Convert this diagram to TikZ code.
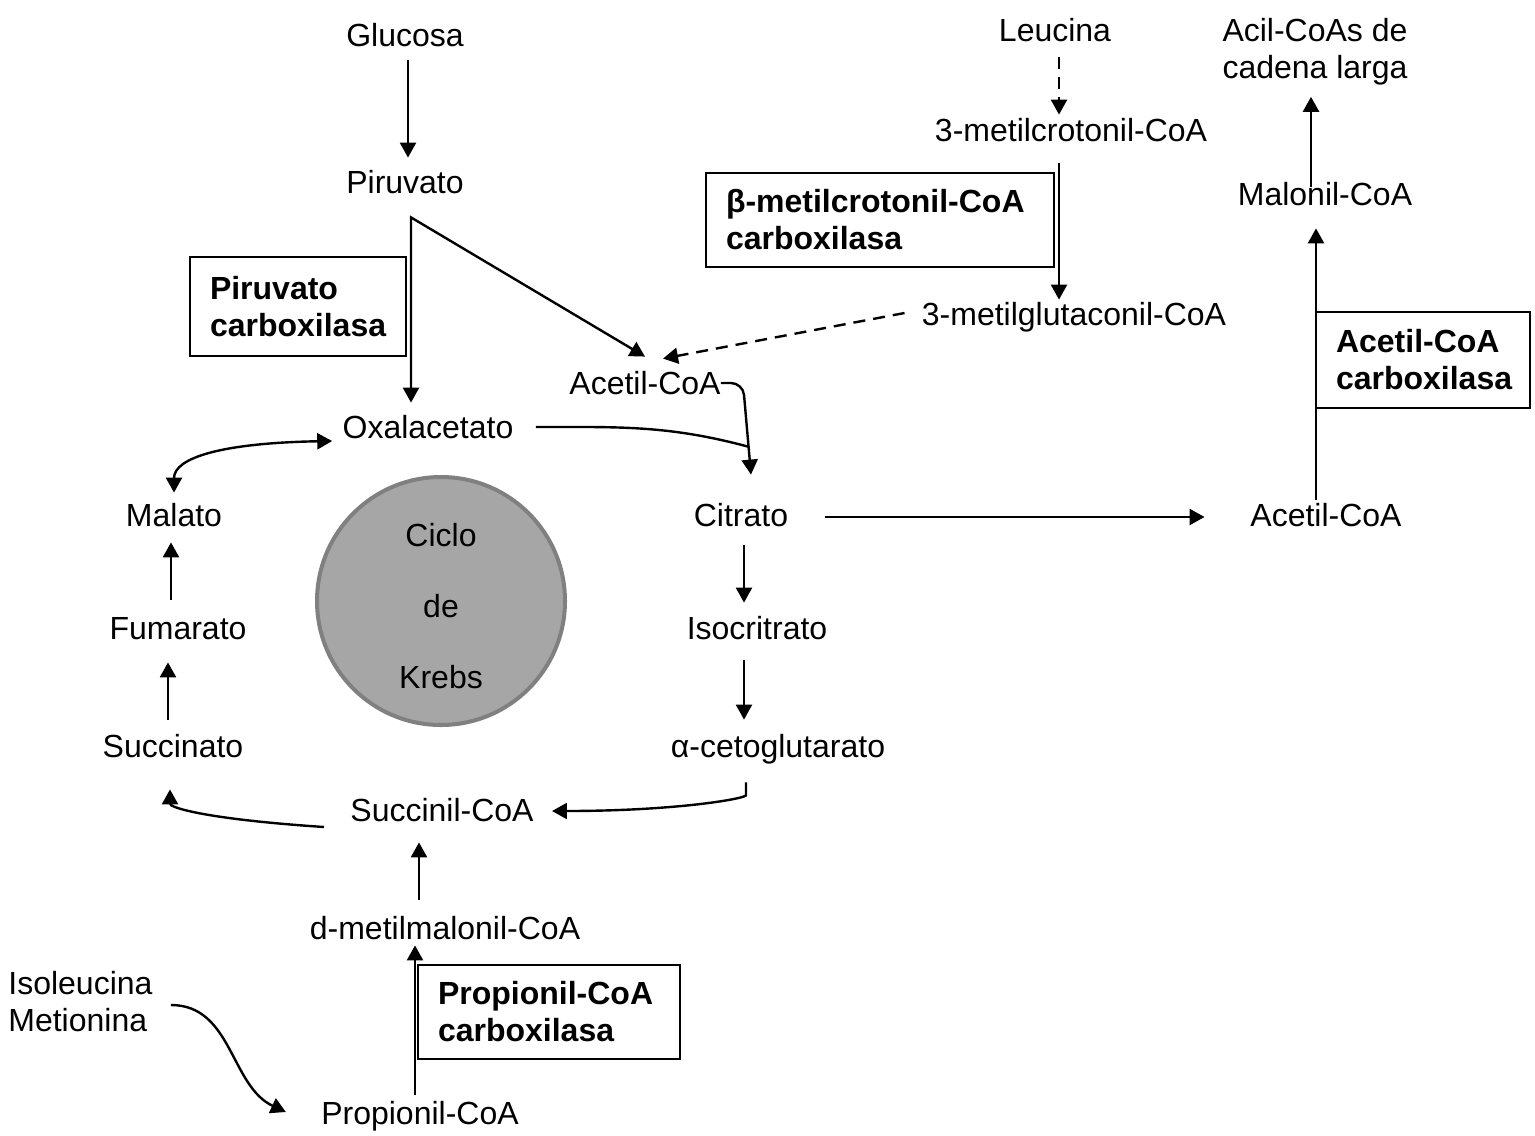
\documentclass[tikz,border=0pt]{standalone}
\usepackage{fontspec}
\setmainfont{Liberation Sans}
\usetikzlibrary{arrows.meta}
\tikzset{
met/.style={inner sep=0pt, font=\fontsize{16}{18.5}\selectfont, text height=11.5pt, text depth=0pt},
two/.style={inner sep=0pt, font=\fontsize{16}{18.5}\selectfont},
enz/.style={draw, line width=0.6pt, inner xsep=10pt, inner ysep=0pt, align=left,
  font=\fontsize{16}{18.5}\selectfont\bfseries, execute at begin node={\hyphenpenalty=10000\relax}},
krebs/.style={circle, draw=black!50, fill=black!35, line width=2pt, minimum size=124pt, inner sep=0pt},
arr/.style={line width=1.2pt, -{Triangle[length=7.5pt,width=8pt]}},
arr2/.style={line width=1.2pt, {Triangle[length=7.5pt,width=8pt]}-{Triangle[length=7.5pt,width=8pt]}},
dashline/.style={dash pattern=on 6pt off 4pt},
}

\begin{document}
\begin{tikzpicture}[x=0.5pt,y=0.5pt]
\useasboundingbox (0,0) rectangle (1535,-1135);
% the metabolites
\node[met] (glu) at (405,-35) {Glucosa};
\node[met] (piru) at (405,-182) {Piruvato};
\node[met] (oxa) at (428,-427) {Oxalacetato};
\node[met] (acoa) at (645,-383) {Acetil-CoA};
\node[met] (cit) at (741,-515) {Citrato};
\node[met] (iso) at (757,-628) {Isocritrato};
\node[met] (akg) at (778,-746) {α-cetoglutarato};
\node[met] (scoa) at (442,-810) {Succinil-CoA};
\node[met] (succ) at (173,-746) {Succinato};
\node[met] (fum) at (178,-628) {Fumarato};
\node[met] (mal) at (174,-515) {Malato};
\node[met] (dmm) at (445,-928) {d-metilmalonil-CoA};
\node[met] (pcoa) at (420,-1113) {Propionil-CoA};
\node[two, align=left, anchor=west] (ile) at (8,-1002) {Isoleucina\\Metionina};
\node[met] (leu) at (1055,-30) {Leucina};
\node[met] (mcc) at (1071,-130) {3-metilcrotonil-CoA};
\node[met] (mgc) at (1074,-314) {3-metilglutaconil-CoA};
\node[two, align=center] (acil) at (1315,-52) {Acil-CoAs de\\cadena larga};
\node[met] (malcoa) at (1325,-194) {Malonil-CoA};
\node[met] (acoa2) at (1326,-515) {Acetil-CoA};

% the cycle
\node[krebs] (ciclo) at (441,-601) {};
\node[two, align=center, font=\fontsize{16}{35.5}\selectfont] (ciclo-txt)
  at ([yshift=-2.5pt]ciclo.center) {Ciclo\\de\\Krebs};

% the enzymes
\node[enz, minimum width=108pt, minimum height=49.5pt, text width=88pt] (pc) at (298,-306.5) {Piruvato\\carboxilasa};
\node[enz, minimum width=174pt, minimum height=47pt, text width=154pt] (mccc) at (880,-220) {β-metilcrotonil-CoA\\carboxilasa};
\node[enz, minimum width=107pt, minimum height=48pt, text width=87pt] (acc) at (1423,-360) {Acetil-CoA\\carboxilasa};
\node[enz, minimum width=131pt, minimum height=47pt, text width=111pt] (pcc) at (549,-1012) {Propionil-CoA\\carboxilasa};

% the arrows
\draw[arr] ([xshift=1.5pt,yshift=-6.75pt]glu.south) -- ([xshift=1.5pt,yshift=6.25pt]piru.north);
\coordinate (split) at ([xshift=3pt,yshift=-11.75pt]piru.south);
\draw[arr2] ([xshift=-8.5pt,yshift=6.25pt]oxa.north) -- (split) -- ([yshift=7.25pt]acoa.north);
\draw[arr,dashline] ([xshift=-8.5pt,yshift=0.5pt]mgc.west) -- ([xshift=9pt,yshift=6.25pt]acoa.north);
\draw[arr,rounded corners=6pt] (acoa.east) -- ++(22,0) -- ([xshift=5pt,yshift=14.25pt]cit.north);
\draw[line width=1.2pt] ([xshift=11pt]oxa.east) to[out=0,in=165] ([xshift=3.5pt,yshift=28.25pt]cit.north);
\draw[arr] ([xshift=18pt,yshift=-1pt]cit.east) -- ([xshift=-22.75pt,yshift=-1pt]acoa2.west);
\draw[arr] ([xshift=1.5pt,yshift=-9.25pt]cit.south) -- ([xshift=-6.5pt,yshift=6.75pt]iso.north);
\draw[arr] ([xshift=-6.5pt,yshift=-10.25pt]iso.south) -- ([xshift=-17pt,yshift=7.25pt]akg.north);
\draw[arr] ([xshift=-16pt,yshift=-12.25pt]akg.south) -- ++(0,-13)
  .. controls +(-4,-4) and +(120,0) .. ([xshift=9pt,yshift=-0.5pt]scoa.east);
\draw[arr] ([xshift=-13pt,yshift=-8.5pt]scoa.west)
  .. controls +(-120,8) and +(0,-18) .. ([xshift=-1.5pt,yshift=-15.75pt]succ.south);
\draw[arr] ([xshift=-2.5pt,yshift=7.25pt]succ.north) -- ([xshift=-5pt,yshift=-11.25pt]fum.south);
\draw[arr] ([xshift=-3.5pt,yshift=8.25pt]fum.north) -- ([xshift=-1.5pt,yshift=-7.75pt]mal.south);
\draw[arr2] ([yshift=5.25pt]mal.north)
  .. controls +(0,35) and +(-110,-2) .. ([xshift=-5pt,yshift=-7pt]oxa.west);
\draw[arr] ([xshift=-13pt,yshift=8.25pt]dmm.north) -- ([xshift=-11.5pt,yshift=-10.25pt]scoa.south);
\draw[arr] ([xshift=-2.5pt,yshift=3.25pt]pcoa.north) -- ([xshift=-15pt,yshift=-2.75pt]dmm.south);
\draw[arr] ([xshift=9pt,yshift=-1.5pt]ile.east) to[out=0,in=155] ([xshift=-17.5pt,yshift=0.5pt]pcoa.west);
\draw[arr,dashline] ([xshift=2pt,yshift=-7.75pt]leu.south) -- ([xshift=-6pt,yshift=1.75pt]mcc.north);
\draw[arr] ([xshift=-6pt,yshift=-10.75pt]mcc.south) -- ([xshift=-7.5pt,yshift=1.25pt]mgc.north);
\draw[arr] ([xshift=-7pt,yshift=-2.25pt]malcoa.north) -- ([xshift=-2pt,yshift=-5.5pt]acil.south);
\draw[arr] ([xshift=-5pt,yshift=1.75pt]acoa2.north) -- ([xshift=-4.5pt,yshift=-11.25pt]malcoa.south);
\end{tikzpicture}
\end{document}
